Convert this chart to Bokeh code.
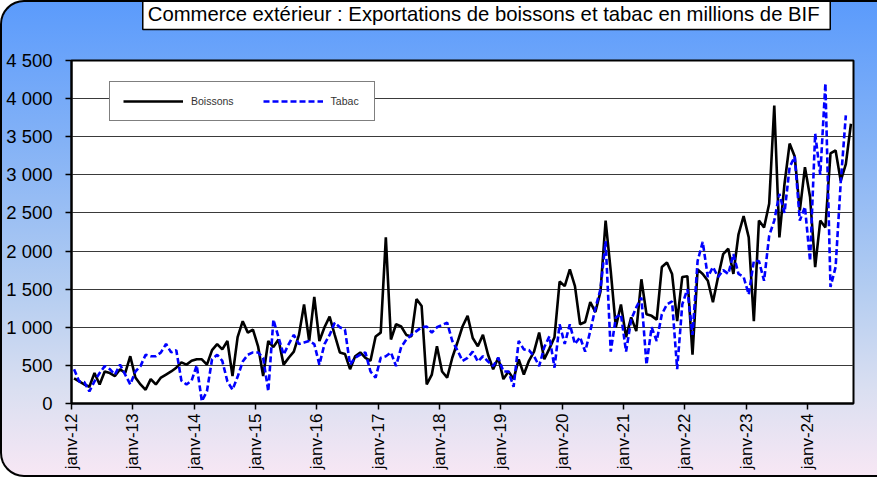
from bokeh.plotting import figure
from bokeh.models import (ColumnDataSource, FixedTicker, Legend, LegendItem,
                          InlineStyleSheet, Range1d, Label)
from bokeh.embed import file_html
from bokeh.resources import INLINE

# ---------------- data ----------------
title_text = "Commerce extérieur : Exportations de  boissons et tabac en millions de BIF"
years = list(range(2012, 2025))
tick_labels = [f"janv-{y % 100:02d}" for y in years]
y_ticks = list(range(0, 5000, 500))

boissons = [
    330, 290, 250, 220, 400, 250, 420, 400, 360, 450, 400, 620,        # 2012
    340, 250, 180, 320, 250, 340, 380, 420, 470, 540, 510, 560,        # 2013
    580, 580, 510, 700, 780, 710, 820, 360, 870, 1080, 930, 970,       # 2014
    750, 360, 820, 740, 840, 510, 600, 680, 900, 1300, 820, 1400,      # 2015
    820, 1000, 1140, 900, 670, 650, 450, 620, 670, 600, 560, 880,      # 2016
    930, 2180, 840, 1040, 1010, 900, 880, 1370, 1280, 250, 380, 750,   # 2017
    420, 340, 600, 800, 1010, 1150, 860, 750, 900, 640, 450, 600,      # 2018
    320, 420, 320, 580, 380, 560, 680, 930, 580, 720, 870, 1600,       # 2019
    1540, 1760, 1540, 1040, 1070, 1330, 1200, 1470, 2400, 1740, 1000, 1300,  # 2020
    870, 1130, 950, 1630, 1170, 1150, 1100, 1790, 1850, 1700, 1080, 1660,    # 2021
    1670, 640, 1760, 1700, 1610, 1330, 1660, 1960, 2030, 1700, 2220, 2460,   # 2022
    2180, 1080, 2400, 2310, 2620, 3910, 2180, 2880, 3410, 3240, 2530, 3100,  # 2023
    2710, 1790, 2400, 2310, 3280, 3320, 2920, 3140, 3670,                    # 2024
]

tabac = [
    450, 290, 280, 160, 290, 400, 490, 450, 380, 510, 380, 250,        # 2012
    420, 490, 640, 620, 620, 670, 780, 670, 700, 300, 250, 300,        # 2013
    500, 30, 160, 580, 640, 560, 290, 180, 350, 550, 640, 670,         # 2014
    670, 600, 160, 1100, 870, 640, 780, 900, 780, 800, 820, 780,       # 2015
    510, 780, 900, 1060, 1000, 970, 510, 600, 640, 670, 420, 340,      # 2016
    600, 620, 670, 490, 740, 840, 900, 950, 1000, 1010, 930, 1000,     # 2017
    1030, 1060, 820, 700, 560, 600, 680, 550, 620, 550, 490, 600,      # 2018
    420, 420, 220, 820, 710, 700, 620, 490, 740, 880, 470, 1040,       # 2019
    780, 1040, 780, 870, 680, 950, 1250, 1500, 2130, 680, 1130, 1170,  # 2020
    680, 1100, 1260, 1390, 510, 1000, 820, 1170, 1300, 1340, 450, 1300,      # 2021
    1500, 900, 1870, 2120, 1660, 1790, 1660, 1750, 1700, 1960, 1700, 1660,   # 2022
    1430, 1870, 1870, 1610, 2200, 2400, 2750, 2500, 3100, 3240, 2400, 2580,  # 2023
    1870, 3540, 3000, 4200, 1530, 1790, 2900, 3780,                          # 2024
]

# month index -> position in the middle of the month (Excel date axis)
src_b = ColumnDataSource(dict(x=[i + 0.5 for i in range(len(boissons))], y=boissons))
src_t = ColumnDataSource(dict(x=[i + 0.5 for i in range(len(tabac))], y=tabac))

n_months = len(years) * 12 - 3  # Jan 2012 .. Sep 2024

css = InlineStyleSheet(css="""
:host {
  background: linear-gradient(to bottom, #5b9bfc 0%, #84b2f6 30%, #b2ccf1 60%, #dadff1 82%, #f7e7f4 100%);
  border: 2px solid #000;
  border-right: none;
  border-radius: 24px 0 0 24px;
}
""")

p = figure(width=877, height=477, output_backend="svg", toolbar_location=None,
           x_range=Range1d(0, n_months), y_range=Range1d(0, 4500),
           min_border_left=69, min_border_right=26, min_border_top=58,
           min_border_bottom=76, stylesheets=[css])

p.border_fill_color = None
p.background_fill_color = "white"
p.outline_line_color = "black"
p.outline_line_width = 2

# title drawn as a boxed label in the top panel
title = Label(x=415, y=47, x_units="screen", y_units="screen",
              text=title_text, text_align="center", text_baseline="middle",
              text_font="Liberation Sans", text_font_size="20.3px",
              text_color="black", background_fill_color="white",
              border_line_color="black", border_line_width=1.5)
if "padding" in title.properties():
    title.padding = 5
p.add_layout(title, "above")

# lines
r_b = p.line("x", "y", source=src_b, line_color="black", line_width=2.6)
r_t = p.line("x", "y", source=src_t, line_color="#0000ff", line_width=2.6,
             line_dash="6 3")

# axes
p.xaxis.ticker = FixedTicker(ticks=[12 * k for k in range(len(years))])
p.xaxis.major_label_overrides = {12 * k: lab for k, lab in enumerate(tick_labels)}
p.xaxis.major_label_orientation = 1.5708
p.yaxis.ticker = FixedTicker(ticks=y_ticks)
p.yaxis.major_label_overrides = {v: f"{v:,}".replace(",", " ") for v in y_ticks}

for ax in (p.xaxis[0], p.yaxis[0]):
    ax.axis_line_color = "black"
    ax.axis_line_width = 2
    ax.major_tick_line_color = "black"
    ax.major_tick_line_width = 1.5
    ax.major_tick_in = 0
    ax.major_tick_out = 6
    ax.minor_tick_line_color = None
    ax.major_label_text_font = "Liberation Sans"
    ax.major_label_text_color = "black"
p.xaxis.major_label_text_font_size = "17px"
p.xaxis.major_label_standoff = 4
p.yaxis.major_label_text_font_size = "18.5px"
p.yaxis.major_label_standoff = 13

p.xgrid.visible = False
p.ygrid.grid_line_color = "#3a3a3a"
p.ygrid.grid_line_width = 1.2

# legend
legend = Legend(items=[LegendItem(label="Boissons", renderers=[r_b]),
                       LegendItem(label="Tabac", renderers=[r_t])],
                orientation="horizontal", location=(38, 282))
legend.border_line_color = "black"
legend.border_line_width = 1.2
legend.background_fill_color = "white"
legend.background_fill_alpha = 1
legend.label_text_font = "Liberation Sans"
legend.label_text_font_size = "10.5px"
legend.label_text_color = "#333333"
legend.glyph_width = 60
legend.glyph_height = 12
legend.label_height = 12
legend.label_width = 30
legend.label_standoff = 8
legend.spacing = 29
legend.padding = 13
legend.margin = 0
p.add_layout(legend, "center")

open("out.html", "w").write(file_html(p, INLINE))
